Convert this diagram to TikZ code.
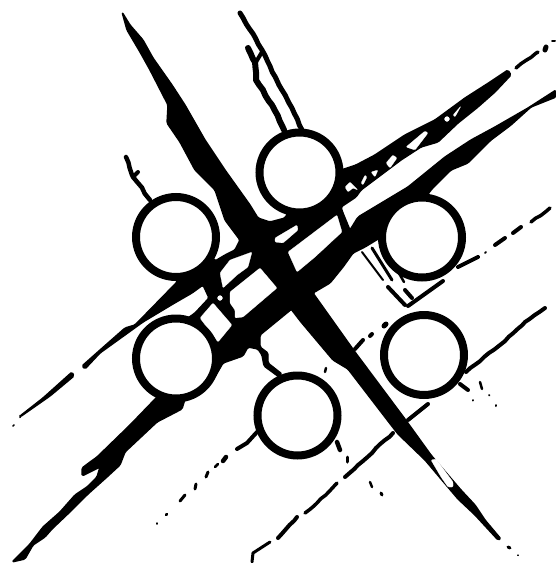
\documentclass[tikz,border=0pt]{standalone}
\usepackage{tikz}
\usetikzlibrary{decorations.pathmorphing}
\tikzset{
    blob/.style={fill=black, draw=black, line width=1.4pt, line join=round, rounded corners=1.5pt},
    hole/.style={fill=white, draw=white, line width=.2pt, line join=round, rounded corners=1pt},
    road/.style={draw=black, line width=#1, line cap=round, line join=round},
    road/.default=2pt,
    rough/.style={decorate, decoration={random steps, segment length=6pt, amplitude=.6pt}},
    ring/.style={draw=black, fill=white, line width=8pt}
}
\pgfmathsetseed{7}

\begin{document}
\begin{tikzpicture}[x=1pt, y=-1pt]
    \useasboundingbox (0,0) rectangle (556,563);

    % roads crossing in the middle
    \path[blob] (122,12) -- (130,25) -- (143,40) -- (153,58) -- (172,85) -- (185,105) -- (205,140) -- (225,170) -- (250,205) -- (258,218) -- (270,222) -- (285,218) -- (300,190) -- (330,180) -- (341,170) -- (356,165) -- (375,155) -- (405,135) -- (435,120) -- (465,98) -- (490,82) -- (508,70) -- (511,75) -- (495,92) -- (478,107) -- (458,123) -- (438,142) -- (421,147) -- (401,160) -- (361,190) -- (356,197) -- (341,207) -- (343,213) -- (350,230) -- (358,217) -- (408,187) -- (445,157) -- (471,140) -- (495,127) -- (528,108) -- (556,90) -- (556,97) -- (531,107) -- (511,125) -- (491,140) -- (468,163) -- (451,170) -- (431,190) -- (410,220) -- (388,233) -- (365,247) -- (353,253) -- (343,267) -- (330,283) -- (313,293) -- (355,352) -- (405,419) -- (431,455) -- (461,490) -- (475,505) -- (485,520) -- (501,539) -- (498,540) -- (475,515) -- (458,499) -- (441,479) -- (425,460) -- (398,434) -- (391,425) -- (348,369) -- (333,360) -- (301,322) -- (291,309) -- (293,308) -- (260,335) -- (260,347) -- (268,353) -- (268,363) -- (282,374) -- (279,377) -- (264,366) -- (262,355) -- (258,349) -- (248,347) -- (243,356) -- (223,363) -- (215,377) -- (190,370) -- (185,330) -- (185,320) -- (195,313) -- (209,298) -- (203,285) -- (192,293) -- (173,304) -- (143,322) -- (125,335) -- (100,353) -- (85,369) -- (82,366) -- (100,350) -- (125,328) -- (135,325) -- (177,282) -- (180,260) -- (205,245) -- (215,261) -- (225,255) -- (235,250) -- (240,240) -- (225,220) -- (215,190) -- (195,170) -- (180,142) -- (167,123) -- (168,105) -- (150,70) -- (140,52) -- (127,30) -- cycle;

    % thick road to the bottom left
    \path[blob] (157,397) -- (130,425) -- (97,457) -- (90,462) -- (82,468) -- (82,476) -- (90,472) -- (100,467) -- (97,477) -- (87,487) -- (75,495) -- (60,512) -- (43,527) -- (30,544) -- (12,562) -- (25,559) -- (33,545) -- (45,537) -- (52,529) -- (72,510) -- (88,494) -- (107,477) -- (120,465) -- (125,452) -- (157,422) -- (182,409) -- (185,399) -- (175,385) -- cycle;
    \path[blob] (20,416) -- (43,398) -- (72,372) -- (74,376) -- (50,396) -- (20,417) -- cycle;

    % parcels between the roads
    \path[hole] (230,292) -- (260,268) -- (277,288) -- (243,317) -- (235,318) -- (235,310) -- (230,303) -- cycle;
    \path[hole] (200,318) -- (213,303) -- (232,325) -- (218,342) -- cycle;
    \path[hole] (252,252) -- (248,267) -- (237,275) -- (223,288) -- (220,273) -- (230,260) -- cycle;
    \path[hole] (275,238) -- (297,225) -- (298,230) -- (283,243) -- (275,242) -- cycle;
    \path[hole] (288,252) -- (337,215) -- (342,232) -- (315,257) -- (297,272) -- cycle;
    \path[hole] (220,298) circle [radius=2.5];
    \path[hole] (345,187) -- (350,182) -- (358,190) -- (353,188) -- (348,192) -- cycle;
    \path[hole] (361,183) -- (365,175) -- (367,177) -- (363,185) -- cycle;
    \path[hole] (371,172) -- (378,170) -- (375,177) -- cycle;
    \path[hole] (386,163) -- (393,155) -- (397,158) -- (390,168) -- cycle;
    \path[hole] (406,147) -- (425,131) -- (428,133) -- (415,150) -- cycle;
    \path[hole] (447,119) circle [radius=2.5];
    \path[hole] (453,115) -- (461,106) -- (455,117) -- cycle;
    \path[hole] (431,460) -- (436,459) -- (453,482) -- (453,487) -- (448,487) -- (441,477) -- cycle;

    % thin roads at the top
    \draw[road=5pt, rough] (240,13) -- (262,50) -- (279,85) -- (289,103) -- (302,130);
    \draw[road=6pt, rough] (248,48) -- (255,62) -- (256,80) -- (272,105) -- (284,130);
    \draw[road=4pt] (262,52) -- (256,62);
    \draw[road=4.5pt, rough] (126,157) -- (133,177) -- (138,183) -- (150,200);
    \draw[road=4pt] (133,177) -- (138,172);

    % lines on the right and the bottom
    \draw[road=2pt] (362,252) -- (383,280);
    \draw[road=3pt] (372,248) -- (392,280);
    \draw[road=2.5pt] (382,245) -- (400,275) -- (404,282);
    \draw[road=4pt] (388,287) -- (405,305);
    \draw[road=4pt] (405,290) -- (412,298);
    \draw[road=4pt] (408,306) -- (443,281);
    \draw[road=4pt] (458,267) -- (478,257);
    \draw[road=4pt] (495,245) -- (505,238);
    \draw[road=4pt] (513,233) -- (521,227);
    \draw[road=3.5pt, rough] (531,222) -- (550,208);
    \draw[road=2pt] (485,253) -- (486,252);
    \draw[road=4pt, rough] (466,372) -- (500,345) -- (525,322) -- (545,308);
    \draw[road=4pt] (408,420) -- (428,404);
    \draw[road=4pt, rough] (345,477) -- (393,433);
    \draw[road=3.5pt, rough] (305,513) -- (317,503) -- (337,483);
    \draw[road=4pt, rough] (278,538) -- (297,517);
    \draw[road=3pt] (252,562) -- (253,553) -- (270,542);
    \draw[road=4pt] (237,449) -- (247,443) -- (257,432);

    % short dashes
    \draw[road=4pt] (355,349) -- (363,340);
    \draw[road=4pt] (370,336) -- (372,334);
    \draw[road=5pt] (384,326) -- (386,324);
    \draw[road=4pt] (460,384) -- (468,390);
    \draw[road=2.5pt] (480,382) -- (482,389);
    \draw[road=2pt] (473,400) -- (473,400.5);
    \draw[road=2pt] (489,395) -- (489.5,395.5);
    \draw[road=2pt] (496,405) -- (496,406);
    \draw[road=4.5pt] (337,442) -- (340,450);
    \draw[road=3pt] (347,457) -- (347,462);
    \draw[road=2.5pt] (370,482) -- (372,487);
    \draw[road=3pt] (381,493) -- (382,495);
    \draw[road=2.5pt] (326,368) -- (325,372);
    \draw[road=4.5pt] (226,457) -- (223,461);
    \draw[road=2.5pt] (218,464) -- (215,467);
    \draw[road=3pt] (208,472) -- (206,477);
    \draw[road=3pt] (196,484) -- (195,489);
    \draw[road=3pt] (185,495) -- (180,501);
    \draw[road=2.5pt] (167,514) -- (166,515);
    \draw[road=1.5pt] (157,523) -- (157,524);
    \draw[road=1.5pt] (13,426) -- (14,425);
    \draw[road=3.5pt, rough] (516,68) -- (538,52);
    \draw[road=5pt] (546,47) -- (545,50);
    \draw[road=2pt] (552,41) -- (555,41);
    \draw[road=3pt] (508,547) -- (510,548);
    \draw[road=1.2pt] (518,555) -- (518,555.5);

    % the six circles
    \foreach \cx/\cy in {299.5/172.5, 176/237, 422/237.5, 176/358.5, 424/355, 297.5/415.5}
        \draw[ring] (\cx,\cy) circle [radius=40];
\end{tikzpicture}
\end{document}
